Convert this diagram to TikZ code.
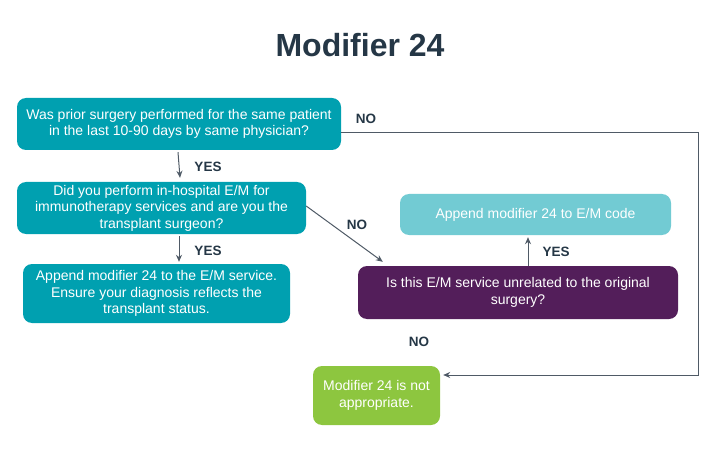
\documentclass[tikz,border=0pt]{standalone}
\usepackage{fontspec}
\setmainfont{Liberation Sans}
\usetikzlibrary{arrows.meta,calc}
\definecolor{qteal}{HTML}{00A0B0}
\definecolor{lteal}{HTML}{72CBD3}
\definecolor{qpurple}{HTML}{531E5A}
\definecolor{qgreen}{HTML}{8DC63F}
\definecolor{navy}{HTML}{253746}
\definecolor{wire}{HTML}{4F5A66}
\tikzset{
	box/.style={rounded corners=9pt, text=white, align=center, inner sep=0pt,
		font=\fontsize{14}{16.5}\selectfont},
	lbl/.style={text=navy, font=\fontsize{13.5}{15}\selectfont\bfseries},
	arr/.style={draw=wire, line width=1pt, -{Stealth[length=7pt,width=6pt]}}
}
\begin{document}
\begin{tikzpicture}[x=1pt,y=-1pt]
	\useasboundingbox (0,0) rectangle (720,457);
	\node[text=navy, font=\fontsize{32}{36}\selectfont\bfseries] (title) at (360,45) {Modifier 24};

	\node[box, fill=qteal, minimum width=324pt, minimum height=52pt] (q1) at (179,124)
		{Was prior surgery performed for the same patient\\in the last 10-90 days by same physician?};
	\node[box, fill=qteal, minimum width=289pt, minimum height=52pt] (q2) at (161.5,208)
		{Did you perform in-hospital E/M for\\immunotherapy services and are you the\\transplant surgeon?};
	\node[box, fill=qteal, minimum width=267pt, minimum height=59pt] (a1) at (156.5,293.5)
		{Append modifier 24 to the E/M service.\\Ensure your diagnosis reflects the\\transplant status.};
	\node[box, fill=lteal, minimum width=271pt, minimum height=41pt] (a2) at (535.5,214.5)
		{Append modifier 24 to E/M code};
	\node[box, fill=qpurple, minimum width=320pt, minimum height=53pt] (q3) at (518,292.5)
		{Is this E/M service unrelated to the original\\surgery?};
	\node[box, fill=qgreen, minimum width=127pt, minimum height=59pt] (a3) at (376.5,395.5)
		{Modifier 24 is not\\appropriate.};

	% yes branches
	\draw[arr] ($(q1.south)+(-1,2)$) -- ($(q2.north)+(18.5,-4)$);
	\draw[arr] ($(q2.south)+(17.5,2)$) -- ($(a1.north)+(22.5,-2)$);
	\draw[arr] ($(q3.north)+(10,0)$) -- ($(a2.south)+(-7.5,2)$);
	\node[lbl] (y1) at (208,167) {YES};
	\node[lbl] (y2) at (208,251) {YES};
	\node[lbl] (y3) at (556,252) {YES};

	% no branches
	\draw[arr] ($(q2.east)+(0,-2)$) -- ($(q3.north west)+(25,-4)$);
	\draw[arr] ($(q1.east)+(0,9)$) -- ++(357,0) |- ($(a3.east)+(3,-20.5)$);
	\node[lbl] (n1) at (366,119) {NO};
	\node[lbl] (n2) at (357,225) {NO};
	\node[lbl] (n3) at (419,342) {NO};
\end{tikzpicture}
\end{document}
